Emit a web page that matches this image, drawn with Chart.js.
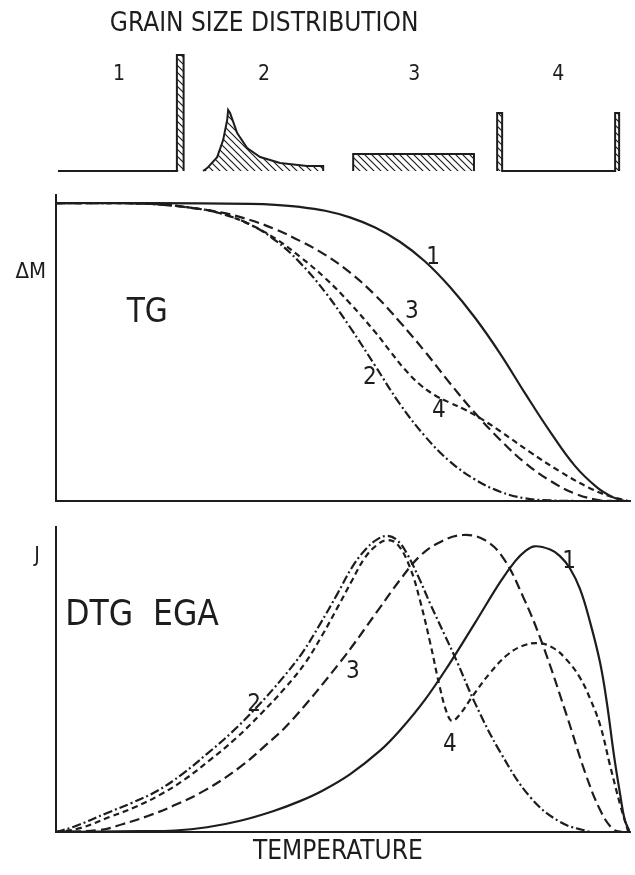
<!DOCTYPE html>
<html>
<head>
<meta charset="utf-8">
<title>Grain size distribution - TG / DTG EGA</title>
<script src="https://cdn.jsdelivr.net/npm/chart.js@4.4.1/dist/chart.umd.min.js"></script>
<style>
    body { margin: 0; background: #fff; }
    #wrap { position: relative; width: 635px; height: 875px; }
    canvas { position: absolute; left: 0; }
</style>
</head>
<body>
<div id="wrap">
    <canvas id="grainChart" width="635" height="185" style="top:0px"></canvas>
    <canvas id="tgChart" width="635" height="330" style="top:185px"></canvas>
    <canvas id="dtgChart" width="635" height="360" style="top:515px"></canvas>
</div>
<script>
// Grain size distributions (relative size, relative frequency)
const size1 = [0, 0.975, 0.975, 1.03, 1.03];
const freq1 = [0, 0, 1, 1, 0];
const size2 = [0, 0.033, 0.115, 0.164, 0.197, 0.205, 0.221, 0.279, 0.361, 0.467, 0.631, 0.852, 0.984, 0.984];
const freq2 = [0, 0.026, 0.12, 0.267, 0.44, 0.526, 0.5, 0.328, 0.198, 0.121, 0.069, 0.043, 0.043, 0];
const size3 = [0, 0, 0.99, 0.99];
const freq3 = [0, 0.147, 0.147, 0];
const size4 = [0, 0, 0.041, 0.041, 0.967, 0.967, 1.0, 1.0];
const freq4 = [0, 0.5, 0.5, 0, 0, 0.5, 0.5, 0];
const grainLabels = ['1', '2', '3', '4'];

// TG curves (temperature %, mass change)
const tgTemp1 = [0, 17, 33.8, 38.2, 42.5, 46.9, 51.2, 55.6, 59.9, 64.3, 68.6, 73.0, 77.4, 81.7, 86.1, 90.4, 94.3, 97.0, 99.1];
const tgMass1 = [1, 1, 0.997, 0.994, 0.987, 0.974, 0.952, 0.918, 0.870, 0.804, 0.719, 0.615, 0.494, 0.362, 0.232, 0.118, 0.045, 0.013, 0];
const tgTemp2 = [0, 16.4, 25.1, 29.4, 33.8, 38.2, 42.5, 46.9, 51.2, 55.6, 59.9, 64.3, 68.6, 73.0, 77.4, 81.7, 86.1, 90.4];
const tgMass2 = [1, 0.997, 0.98, 0.961, 0.928, 0.875, 0.800, 0.701, 0.584, 0.454, 0.326, 0.217, 0.133, 0.072, 0.031, 0.009, 0.002, 0];
const tgTemp3 = [0, 16.4, 25.1, 29.4, 33.8, 38.2, 42.5, 46.9, 51.2, 55.6, 59.9, 64.3, 68.6, 73.0, 77.4, 81.7, 86.1, 90.4, 94.8, 97.4];
const tgMass3 = [1, 0.997, 0.98, 0.966, 0.943, 0.912, 0.873, 0.826, 0.767, 0.691, 0.601, 0.501, 0.396, 0.295, 0.205, 0.128, 0.068, 0.025, 0.002, 0];
const tgTemp4 = [0, 16.4, 25.1, 29.4, 33.8, 38.2, 42.5, 46.9, 51.2, 55.6, 58.2, 60.8, 63.4, 66.0, 68.6, 71.3, 73.9, 77.4, 82.6, 87.8, 93.0, 96.5, 99.7];
const tgMass4 = [1, 0.997, 0.98, 0.961, 0.928, 0.881, 0.820, 0.748, 0.664, 0.567, 0.503, 0.441, 0.391, 0.355, 0.330, 0.306, 0.278, 0.234, 0.164, 0.099, 0.043, 0.016, 0];

// DTG / EGA curves (temperature %, rate)
const dtgTemp1 = [0, 14.6, 20.7, 26.3, 32.1, 37.8, 42.5, 46.5, 51.2, 56.4, 59.9, 64.3, 68.6, 73.0, 77.4, 80.0, 81.7, 83.4, 86.1, 87.8, 89.5, 91.3, 93.0, 94.8, 96.0, 97.2, 98.3, 99.1, 100];
const dtgRate1 = [0, 0.003, 0.005, 0.016, 0.038, 0.070, 0.104, 0.140, 0.194, 0.273, 0.342, 0.446, 0.568, 0.704, 0.842, 0.912, 0.945, 0.962, 0.951, 0.929, 0.889, 0.818, 0.710, 0.569, 0.431, 0.259, 0.125, 0.040, 0];
const dtgTemp2 = [0, 3.0, 8.9, 13.2, 17.6, 22.0, 26.3, 30.7, 35.0, 39.5, 43.0, 46.0, 49.0, 51.6, 54.0, 56.1, 57.8, 59.4, 61.1, 63.4, 65.2, 67.8, 69.9, 73.0, 77.4, 82.6, 87.8, 93.0];
const dtgRate2 = [0, 0.017, 0.064, 0.098, 0.138, 0.195, 0.263, 0.337, 0.421, 0.519, 0.606, 0.700, 0.801, 0.892, 0.953, 0.987, 0.997, 0.983, 0.939, 0.848, 0.768, 0.660, 0.572, 0.434, 0.269, 0.118, 0.034, 0];
const dtgTemp3 = [0, 7.7, 11.7, 16.0, 20.4, 26.0, 32.1, 36.4, 40.8, 49.5, 55.9, 59.9, 63.4, 66.9, 70.9, 74.7, 77.9, 81.4, 84.8, 89.0, 92.2, 94.8, 97.0, 98.6];
const dtgRate3 = [0, 0.007, 0.027, 0.054, 0.088, 0.141, 0.219, 0.290, 0.370, 0.572, 0.741, 0.848, 0.929, 0.976, 1.0, 0.983, 0.923, 0.791, 0.630, 0.391, 0.199, 0.074, 0.010, 0];
const dtgTemp4 = [0, 4.2, 9.4, 13.8, 18.1, 22.5, 26.8, 31.2, 35.5, 39.9, 43.4, 46.3, 49.1, 51.6, 53.8, 55.9, 57.8, 59.6, 61.7, 63.4, 65.2, 66.9, 68.1, 69.0, 70.4, 72.6, 75.6, 78.6, 81.2, 84.0, 86.6, 89.0, 91.3, 93.0, 94.8, 96.5, 98.3, 99.7];
const dtgRate4 = [0, 0.013, 0.051, 0.084, 0.125, 0.178, 0.242, 0.313, 0.394, 0.485, 0.569, 0.660, 0.758, 0.848, 0.923, 0.966, 0.983, 0.966, 0.889, 0.781, 0.636, 0.485, 0.401, 0.374, 0.397, 0.458, 0.535, 0.596, 0.626, 0.636, 0.620, 0.579, 0.519, 0.451, 0.360, 0.226, 0.091, 0];

const INK = '#1d1d1d';
const FONT = '"DejaVu Sans Condensed", "Liberation Sans Narrow", "DejaVu Sans", sans-serif';

// Draws free text at data coordinates
const notesPlugin = {
    id: 'notes',
    afterDatasetsDraw(chart, args, opts) {
        const ctx = chart.ctx;
        const xs = chart.scales.x;
        const ys = chart.scales.y;
        ctx.save();
        ctx.fillStyle = INK;
        ctx.textBaseline = 'middle';
        (opts.items || []).forEach(n => {
            ctx.font = n.size + 'px ' + FONT;
            ctx.textAlign = n.align || 'center';
            ctx.fillText(n.text, xs.getPixelForValue(n.x), ys.getPixelForValue(n.y));
        });
        ctx.restore();
    }
};
Chart.register(notesPlugin);

function toPoints(xs, ys, offset) {
    return xs.map((x, i) => ({ x: x + (offset || 0), y: ys[i] }));
}

// Diagonal hatch used in the grain size sketches
function makeHatch() {
    const c = document.createElement('canvas');
    c.width = 7;
    c.height = 7;
    const g = c.getContext('2d');
    g.strokeStyle = INK;
    g.lineWidth = 1.2;
    g.beginPath();
    g.moveTo(-1, -1); g.lineTo(8, 8);
    g.moveTo(-1, 6); g.lineTo(1, 8);
    g.moveTo(6, -1); g.lineTo(8, 1);
    g.stroke();
    return g.createPattern(c, 'repeat');
}

function curve(xs, ys, dash) {
    return {
        data: toPoints(xs, ys),
        borderColor: INK,
        borderWidth: 2.2,
        borderDash: dash,
        pointRadius: 0,
        fill: false,
        tension: 0.4
    };
}

const axisOpts = (min, max) => ({
    type: 'linear',
    min: min,
    max: max,
    grid: { display: false, drawTicks: false },
    ticks: { display: false },
    border: { display: true, color: INK, width: 2 }
});

// Top: grain size distribution sketches
const hatch = makeHatch();
const panelStart = [0, 1.19, 2.42, 3.6];
const grainSets = [[size1, freq1], [size2, freq2], [size3, freq3], [size4, freq4]].map((d, i) => ({
    data: toPoints(d[0], d[1], panelStart[i]),
    borderColor: INK,
    borderWidth: 2,
    backgroundColor: hatch,
    pointRadius: 0,
    tension: 0,
    fill: 'origin'
}));

new Chart(document.getElementById('grainChart'), {
    type: 'line',
    data: { datasets: grainSets },
    options: {
        responsive: false,
        animation: false,
        layout: { padding: 0 },
        plugins: {
            legend: { display: false },
            tooltip: { enabled: false },
            notes: {
                items: [
                    { text: 'GRAIN SIZE DISTRIBUTION', x: 1.69, y: 1.267, size: 26 }
                ].concat(grainLabels.map((t, i) => ({ text: t, x: panelStart[i] + 0.5, y: 0.828, size: 21 })))
            }
        },
        scales: {
            x: { type: 'linear', display: false, min: -0.475, max: 4.73 },
            y: { type: 'linear', display: false, min: -0.12, max: 1.474 }
        }
    }
});

// Middle: TG
new Chart(document.getElementById('tgChart'), {
    type: 'line',
    data: {
        datasets: [
            curve(tgTemp1, tgMass1, []),
            curve(tgTemp2, tgMass2, [9, 3, 2, 3]),
            curve(tgTemp3, tgMass3, [10, 5]),
            curve(tgTemp4, tgMass4, [6, 4])
        ]
    },
    options: {
        responsive: false,
        animation: false,
        layout: { padding: { left: 56, right: 5, top: 10, bottom: 14 } },
        plugins: {
            legend: { display: false },
            tooltip: { enabled: false },
            notes: {
                items: [
                    { text: 'ΔM', x: -4.4, y: 0.768, size: 22 },
                    { text: 'TG', x: 15.9, y: 0.631, size: 33 },
                    { text: '1', x: 65.7, y: 0.815, size: 24 },
                    { text: '3', x: 62.0, y: 0.634, size: 24 },
                    { text: '2', x: 54.7, y: 0.413, size: 24 },
                    { text: '4', x: 66.7, y: 0.302, size: 24 }
                ]
            }
        },
        scales: { x: axisOpts(0, 100), y: axisOpts(0, 1.027) }
    }
});

// Bottom: DTG / EGA
new Chart(document.getElementById('dtgChart'), {
    type: 'line',
    data: {
        datasets: [
            curve(dtgTemp1, dtgRate1, []),
            curve(dtgTemp2, dtgRate2, [9, 3, 2, 3]),
            curve(dtgTemp3, dtgRate3, [10, 5]),
            curve(dtgTemp4, dtgRate4, [6, 4])
        ]
    },
    options: {
        responsive: false,
        animation: false,
        layout: { padding: { left: 56, right: 5, top: 12, bottom: 43 } },
        plugins: {
            legend: { display: false },
            tooltip: { enabled: false },
            notes: {
                items: [
                    { text: 'J', x: -3.3, y: 0.926, size: 21 },
                    { text: 'DTG  EGA', x: 1.6, y: 0.727, size: 35, align: 'left' },
                    { text: '1', x: 89.4, y: 0.909, size: 24 },
                    { text: '2', x: 34.5, y: 0.428, size: 24 },
                    { text: '3', x: 51.7, y: 0.539, size: 24 },
                    { text: '4', x: 68.6, y: 0.293, size: 24 },
                    { text: 'TEMPERATURE', x: 49.1, y: -0.067, size: 26 }
                ]
            }
        },
        scales: { x: axisOpts(0, 100), y: axisOpts(0, 1.027) }
    }
});
</script>
</body>
</html>
